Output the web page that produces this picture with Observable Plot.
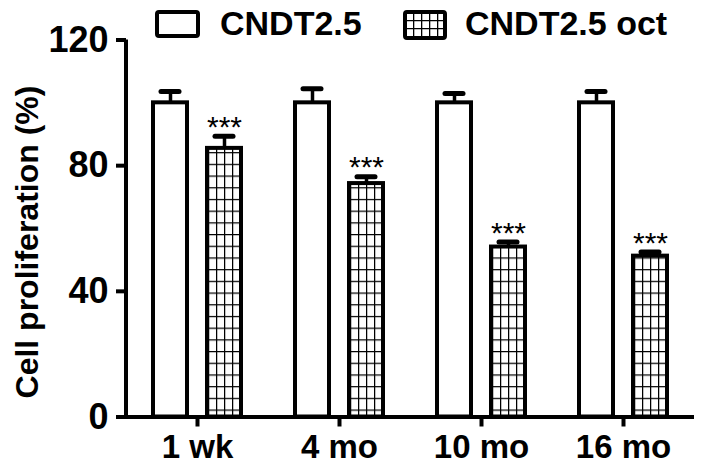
<!DOCTYPE html>
<html>
<head>
<meta charset="utf-8">
<script src="https://cdn.jsdelivr.net/npm/d3@7"></script>
<script src="https://cdn.jsdelivr.net/npm/@observablehq/plot@0.6"></script>
<style>
  html, body { margin: 0; padding: 0; background: #fff; }
  #wrap { position: relative; width: 703px; height: 468px; font-family: "Liberation Sans", Arial, sans-serif; }
  #legend { position: absolute; left: 0; top: 0; }
</style>
</head>
<body>
<div id="wrap"></div>
<script>
// ---- data ----
const categories = ["1 wk", "4 mo", "10 mo", "16 mo"];
const series = ["CNDT2.5", "CNDT2.5 oct"];
const ctrlValues = [100, 100, 100, 100];
const ctrlErrors = [3.6, 4.5, 3.0, 3.6];
const octValues = [85.5, 74.3, 54.1, 51.2];
const octErrors = [3.9, 2.2, 1.6, 1.3];
const octSignif = ["***", "***", "***", "***"];
const yTicks = [0, 40, 80, 120];
const yLabel = "Cell proliferation (%)";

const rows = [];
categories.forEach((c, i) => {
  rows.push({cat: c, series: series[0], value: ctrlValues[i], err: ctrlErrors[i], sig: ""});
  rows.push({cat: c, series: series[1], value: octValues[i], err: octErrors[i], sig: octSignif[i]});
});
const fills = {[series[0]]: "white", [series[1]]: "url(#gridHatch)"};

const W = 703, H = 468;
const mL = 126, mR = 9, mT = 39.5, mB = 51.5;
const font = "Liberation Sans, Arial, sans-serif";

const chart = Plot.plot({
  width: W,
  height: H,
  marginLeft: mL,
  marginRight: mR,
  marginTop: mT,
  marginBottom: mB,
  style: {fontFamily: font, background: "white", color: "black", overflow: "visible"},
  fx: {domain: categories, padding: 0, label: null},
  x: {domain: series, paddingInner: 0.364, paddingOuter: 0.473, axis: null},
  y: {domain: [0, 120], label: null},
  marks: [
    Plot.barY(rows, {
      fx: "cat", x: "series", y: "value",
      fill: d => fills[d.series],
      stroke: "black", strokeWidth: 4
    }),
    Plot.ruleX(rows, {
      fx: "cat", x: "series", y1: "value", y2: d => d.value + d.err,
      stroke: "black", strokeWidth: 3.5
    }),
    Plot.tickY(rows, {
      fx: "cat", x: "series", y: d => d.value + d.err,
      insetLeft: 8, insetRight: 8,
      stroke: "black", strokeWidth: 5, strokeLinecap: "round"
    }),
    Plot.text(rows.filter(d => d.sig), {
      fx: "cat", x: "series", y: d => d.value + d.err,
      text: "sig", dy: -9, fontSize: 30, fill: "black"
    }),
    Plot.ruleY([0], {stroke: "black", strokeWidth: 4}),
    Plot.axisY({
      ticks: yTicks, tickSize: 10, tickPadding: 8, strokeWidth: 4,
      fontSize: 36, fontWeight: "bold", label: null, tickFormat: d => String(d)
    }),
    Plot.axisFx({
      anchor: "bottom",
      tickSize: 10, tickPadding: 8, strokeWidth: 4,
      fontSize: 33, fontWeight: "bold", label: null
    })
  ]
});

// pattern defs
const svg = d3.select(chart);
const defs = svg.insert("defs", ":first-child");
const p = defs.append("pattern")
  .attr("id", "gridHatch")
  .attr("patternUnits", "userSpaceOnUse")
  .attr("width", 8).attr("height", 11.7);
p.append("rect").attr("width", 8).attr("height", 11.7).attr("fill", "white");
p.append("path").attr("d", "M0,0.6H8M0.6,0V11.7")
  .attr("stroke", "black").attr("stroke-width", 1.3).attr("fill", "none");

// y axis line, from the y scale
const ys = chart.scale("y");
svg.append("line")
  .attr("x1", mL).attr("x2", mL)
  .attr("y1", ys.apply(120)).attr("y2", ys.apply(0))
  .attr("stroke", "black").attr("stroke-width", 4);

// y axis label
svg.append("text")
  .attr("transform", `translate(${mL - 100},${(ys.apply(120) + ys.apply(0)) / 2 + 14}) rotate(-90)`)
  .attr("text-anchor", "middle").attr("dy", "0.36em")
  .attr("font-size", 32).attr("font-weight", "bold").attr("font-family", font)
  .attr("fill", "black")
  .text(yLabel);

document.getElementById("wrap").appendChild(chart);

// legend (overlaid at top)
const leg = d3.select("#wrap").append("svg").attr("id", "legend")
  .attr("width", W).attr("height", 45);
const ldefs = leg.append("defs");
const lp = ldefs.append("pattern").attr("id", "gridHatchLeg")
  .attr("patternUnits", "userSpaceOnUse").attr("width", 8).attr("height", 8)
  .attr("x", 405).attr("y", 12);
lp.append("rect").attr("width", 8).attr("height", 8).attr("fill", "white");
lp.append("path").attr("d", "M0,0.6H8M0.6,0V8").attr("stroke", "black").attr("stroke-width", 1.4);
const legItems = [
  {name: series[0], box: [157, 12, 41, 24], fill: "white", tx: 220},
  {name: series[1], box: [405, 12, 40, 26], fill: "url(#gridHatchLeg)", tx: 465}
];
legItems.forEach(it => {
  leg.append("rect")
    .attr("x", it.box[0]).attr("y", it.box[1]).attr("width", it.box[2]).attr("height", it.box[3])
    .attr("rx", 2).attr("fill", it.fill).attr("stroke", "black").attr("stroke-width", 4);
  leg.append("text").attr("x", it.tx).attr("y", 35)
    .attr("font-size", 34).attr("font-weight", "bold").attr("font-family", font)
    .text(it.name);
});
</script>
</body>
</html>
